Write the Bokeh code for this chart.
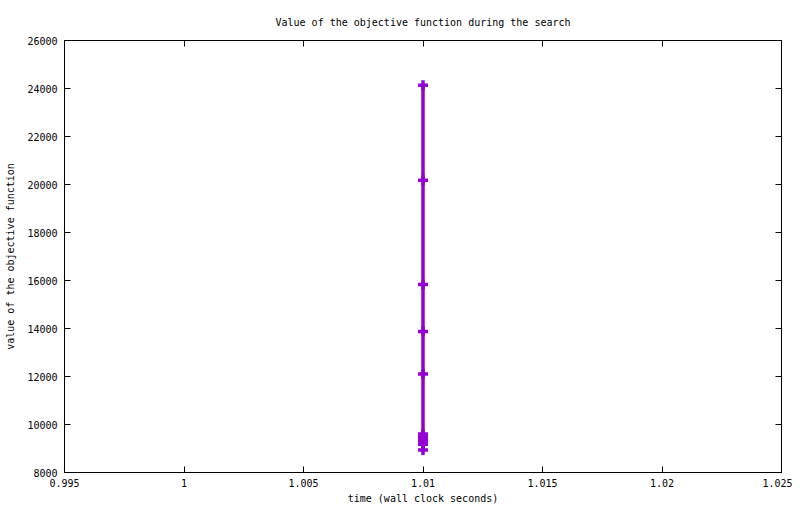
from bokeh.plotting import figure
from bokeh.models import FixedTicker, LinearAxis, Range1d, CustomJSTickFormatter
from bokeh.embed import file_html
from bokeh.resources import INLINE

# ---- data ----
times = [1.01, 1.01, 1.01, 1.01, 1.01, 1.01, 1.01, 1.01, 1.01, 1.01, 1.01]
objective = [24140, 20180, 15830, 13880, 12100, 9600, 9480, 9390, 9290, 9180, 8940]

x_ticks = [0.995, 1.0, 1.005, 1.01, 1.015, 1.02, 1.025]
x_tick_labels = ["0.995", "1", "1.005", "1.01", "1.015", "1.02", "1.025"]
y_ticks = [8000, 10000, 12000, 14000, 16000, 18000, 20000, 22000, 24000, 26000]
y_tick_labels = [str(v) for v in y_ticks]

title_text = "Value of the objective function during the search"
x_label = "time (wall clock seconds)"
y_label = "value of the objective function"

FONT = "DejaVu Sans Mono"
COLOR = "#9400d3"

p = figure(width=792, height=506, output_backend="svg", toolbar_location=None,
           x_range=Range1d(x_ticks[0], x_ticks[-1]),
           y_range=Range1d(y_ticks[0], y_ticks[-1]),
           min_border_left=64, min_border_right=11,
           min_border_top=40, min_border_bottom=34,
           x_axis_label=x_label, y_axis_label=y_label)

p.title.text = title_text
p.title.align = "center"
p.title.text_font = FONT
p.title.text_font_size = "10px"
p.title.text_font_style = "normal"
p.title.text_color = "black"
p.title.standoff = 26

p.grid.visible = False
p.outline_line_color = "black"
p.outline_line_width = 1
p.background_fill_color = "white"
p.border_fill_color = "white"

xa = p.xaxis[0]
ya = p.yaxis[0]
xa.ticker = FixedTicker(ticks=x_ticks)
ya.ticker = FixedTicker(ticks=y_ticks)
xa.major_label_overrides = {t: l for t, l in zip(x_ticks, x_tick_labels)}
ya.major_label_overrides = {t: l for t, l in zip(y_ticks, y_tick_labels)}

for ax in (xa, ya):
    ax.major_tick_in = 6
    ax.major_tick_out = 0
    ax.minor_tick_line_color = None
    ax.axis_line_color = "black"
    ax.major_label_text_font = FONT
    ax.major_label_text_font_size = "10px"
    ax.major_label_text_color = "black"
    ax.axis_label_text_font = FONT
    ax.axis_label_text_font_size = "10px"
    ax.axis_label_text_font_style = "normal"
    ax.axis_label_text_color = "black"

ya.major_label_standoff = 7
ya.axis_label_standoff = 8
xa.major_label_standoff = 6
xa.axis_label_standoff = 3

empty = CustomJSTickFormatter(code="return ''")
top = LinearAxis(ticker=FixedTicker(ticks=x_ticks), formatter=empty)
right = LinearAxis(ticker=FixedTicker(ticks=y_ticks), formatter=empty)
for ax in (top, right):
    ax.major_tick_in = 6
    ax.major_tick_out = 0
    ax.minor_tick_line_color = None
    ax.major_label_text_font_size = "0px"
    ax.major_label_standoff = 0
    ax.axis_line_color = "black"
p.add_layout(top, "above")
p.add_layout(right, "right")

p.line(times, objective, line_color=COLOR, line_width=3.5)
p.scatter(times, objective, marker="cross", size=10, line_color=COLOR, line_width=3.5)

open("out.html", "w").write(file_html(p, INLINE))
